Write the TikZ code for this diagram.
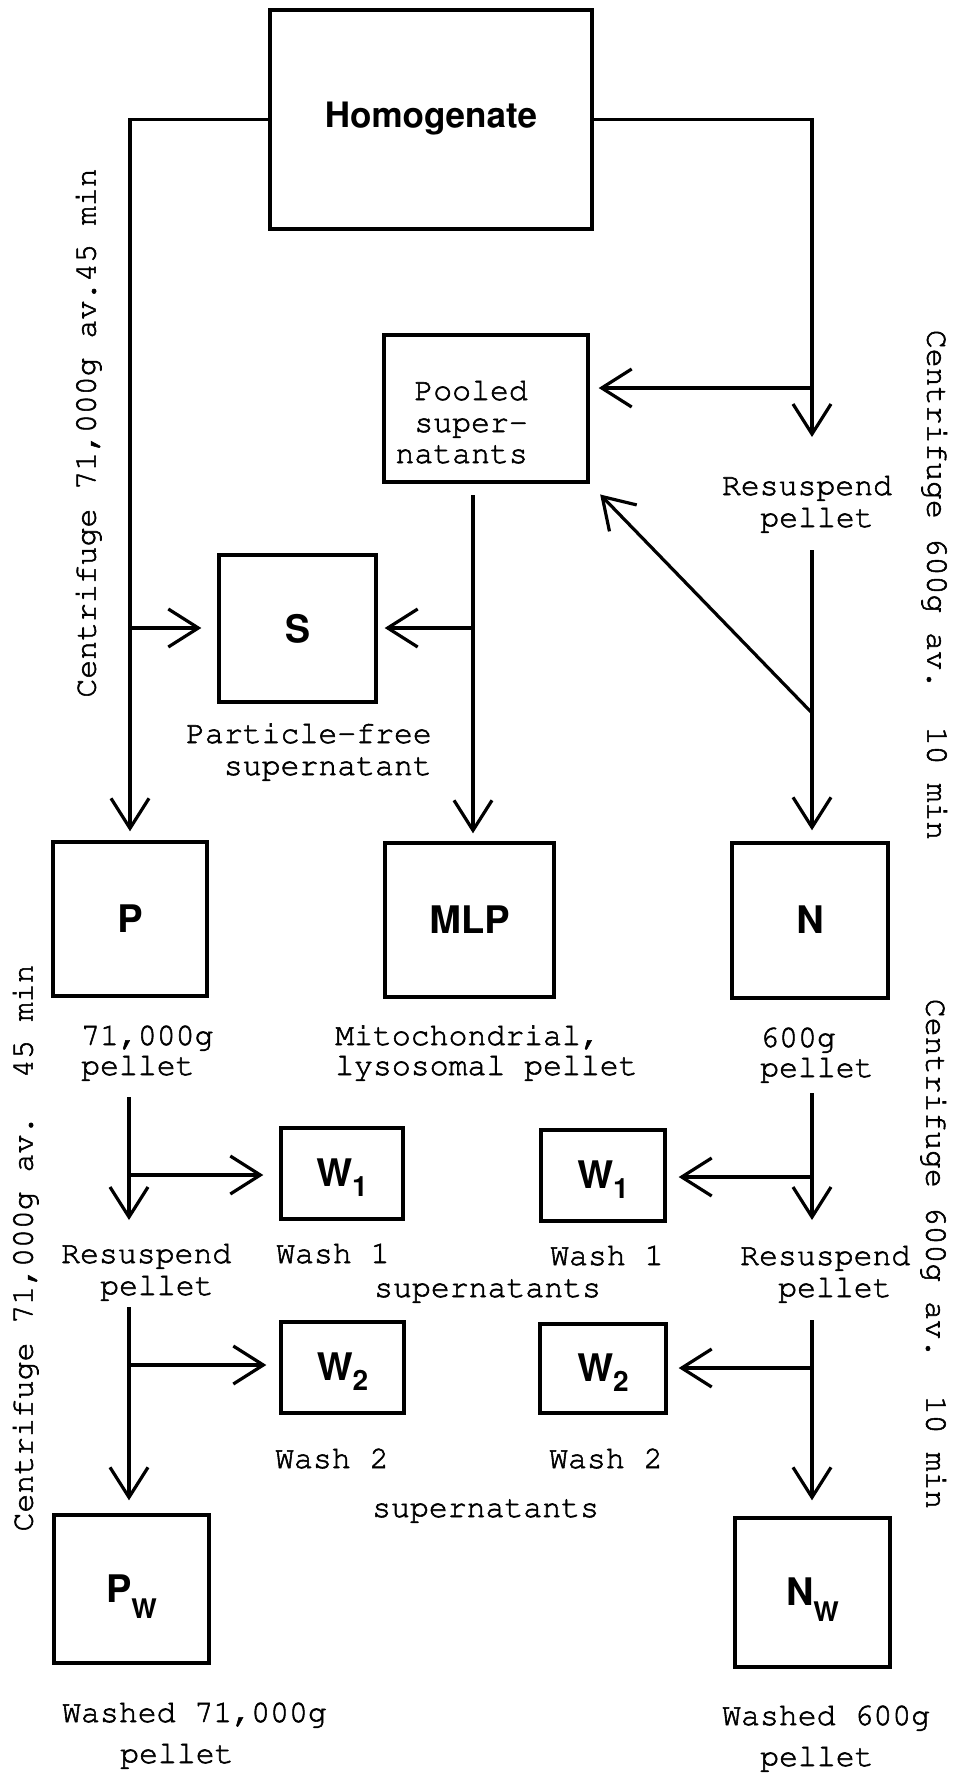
\documentclass[tikz,border=0pt]{standalone}
\usepackage[T1]{fontenc}
\usetikzlibrary{arrows.meta}
\newcommand\courfont{\fontfamily{pcr}\fontseries{m}\fontshape{n}\fontsize{31.5}{32}\selectfont}
\newcommand\helvb[1]{\fontfamily{phv}\fontseries{b}\fontshape{n}\fontsize{#1}{#1}\selectfont}
\newcommand\subdown[3]{\smash{\raisebox{-#1}{\helvb{#2}#3}}}
\newcommand\heavyon{\special{pdf:literal direct 2 Tr 0.55 w}}
\newcommand\heavyoff{\special{pdf:literal direct 0 Tr}}
\begin{document}
\begin{tikzpicture}[x=1pt,y=-1pt,
  box/.style={draw, line width=3.4pt, inner sep=0pt},
  conn/.style={line width=3.2pt},
  arr/.style={conn, -{Straight Barb[length=30pt,width=38pt]}},
  txt/.style={font=\courfont, inner sep=0pt,
    execute at begin node=\heavyon, execute at end node=\heavyoff},
]
\fill[white] (0,0) rectangle (954,1776);
\useasboundingbox (0,0) rectangle (954,1776);

% boxes
\node[box, minimum width=322pt, minimum height=219pt, font=\helvb{35}] (hom) at (431,119.5) {Homogenate};
\node[box, minimum width=204pt, minimum height=147pt] (pool) at (486,408.5) {};
\node[box, minimum width=157pt, minimum height=147pt, font=\helvb{38}] (S) at (297.5,628.5) {S};
\node[box, minimum width=154pt, minimum height=154pt, font=\helvb{38}] (P) at (130,919) {P};
\node[box, minimum width=169pt, minimum height=154pt, font=\helvb{38}] (MLP) at (469.5,920) {MLP};
\node[box, minimum width=156pt, minimum height=155pt, font=\helvb{38}] (N) at (810,920.5) {N};
\node[box, minimum width=122pt, minimum height=91pt, font=\helvb{38}] (W1L) at (342,1173.5) {W\subdown{10pt}{28}{1}};
\node[box, minimum width=123pt, minimum height=91pt, font=\helvb{38}] (W2L) at (342.5,1367.5) {W\subdown{10pt}{28}{2}};
\node[box, minimum width=124pt, minimum height=91pt, font=\helvb{38}] (W1R) at (603,1175.5) {W\subdown{10pt}{28}{1}};
\node[box, minimum width=126pt, minimum height=89pt, font=\helvb{38}] (W2R) at (603,1368.5) {W\subdown{10pt}{28}{2}};
\node[box, minimum width=155pt, minimum height=148pt, font=\helvb{38}] (Pw) at (131.5,1589) {P\subdown{16pt}{27}{W}};
\node[box, minimum width=155pt, minimum height=149pt, font=\helvb{38}] (Nw) at (812.5,1592.5) {N\subdown{16pt}{27}{W}};

% text labels
\node[txt, anchor=base east] (pl1a) at (528,400) {Pooled};
\node[txt, anchor=base east] (pl1b) at (528,432) {super-};
\node[txt, anchor=base east] (pl1c) at (528,463) {natants};
\node[txt, anchor=base] (rs1a) at (807,495) {Resuspend};
\node[txt, anchor=base] (rs1b) at (817,527) {pellet};
\node[txt, anchor=base east] (pf1) at (432,743) {Particle-free};
\node[txt, anchor=base east] (pf2) at (432,775) {supernatant};
\node[txt, anchor=base west] (pp1) at (81,1045) {71,000g};
\node[txt, anchor=base west] (pp2) at (81,1075) {pellet};
\node[txt, anchor=base west] (ml1) at (335,1045) {Mitochondrial,};
\node[txt, anchor=base west] (ml2) at (335,1075) {lysosomal pellet};
\node[txt, anchor=base west] (np1) at (760,1047) {600g};
\node[txt, anchor=base west] (np2) at (760,1077) {pellet};
\node[txt, anchor=base west] (rl1) at (61,1263) {Resuspend};
\node[txt, anchor=base west] (rl2) at (100,1295) {pellet};
\node[txt, anchor=base west] (wl1) at (276,1263) {Wash 1};
\node[txt, anchor=base west] (ws1) at (374,1297) {supernatants};
\node[txt, anchor=base west] (wr1) at (550,1265) {Wash 1};
\node[txt, anchor=base west] (rr1) at (740,1265) {Resuspend};
\node[txt, anchor=base west] (rr2) at (778,1297) {pellet};
\node[txt, anchor=base west] (wl2) at (275,1468) {Wash 2};
\node[txt, anchor=base west] (wr2) at (549,1468) {Wash 2};
\node[txt, anchor=base west] (ws2) at (372,1517) {supernatants};
\node[txt, anchor=base west] (wp1) at (62,1722) {Washed 71,000g};
\node[txt, anchor=base west] (wp2) at (120,1763) {pellet};
\node[txt, anchor=base west] (wn1) at (722,1725) {Washed 600g};
\node[txt, anchor=base west] (wn2) at (760,1766) {pellet};

% rotated centrifuge labels
\node[txt, rotate=90] (cul) at (88,433) {Centrifuge 71,000g av.45 min};
\node[txt, rotate=90] (cll) at (25,1248) {Centrifuge 71,000g av. 45 min};
\node[txt, rotate=-90] (cur) at (935,585) {Centrifuge 600g av. 10 min};
\node[txt, rotate=-90] (clr) at (934,1254) {Centrifuge 600g av. 10 min};

% connectors, upper part
\draw[arr, shorten >=9pt] (hom.west) -| (P.north);
\coordinate (rtip1) at (812,437);
\draw[arr] (hom.east) -| (rtip1);
\coordinate (jr1) at (812,388);
\draw[arr, shorten >=9pt] (jr1) -- (jr1 -| pool.east);
\coordinate (rtop2) at (812,550);
\draw[arr, shorten >=11pt] (rtop2) -- (rtop2 |- N.north);
\coordinate (jd) at (812,713);
\draw[arr, shorten >=15pt] (jd) -- (pool.south east);
\coordinate (ms) at (473,495);
\draw[arr, shorten >=8pt] (ms) -- (ms |- MLP.north);
\coordinate (jm) at (473,628);
\draw[arr, shorten >=7pt] (jm) -- (jm -| S.east);
\coordinate (jl) at (130,628);
\draw[arr, shorten >=16pt] (jl) -- (jl -| S.west);

% connectors, left lower
\coordinate (pla) at (129,1097);
\coordinate (platip) at (129,1220);
\draw[arr] (pla) -- (platip);
\coordinate (jw1) at (129,1175);
\draw[arr, shorten >=16pt] (jw1) -- (jw1 -| W1L.west);
\coordinate (plb) at (129,1307);
\draw[arr, shorten >=13pt] (plb) -- (plb |- Pw.north);
\coordinate (jw2) at (129,1365);
\draw[arr, shorten >=13pt] (jw2) -- (jw2 -| W2L.west);

% connectors, right lower
\coordinate (nra) at (812,1093);
\coordinate (nratip) at (812,1220);
\draw[arr] (nra) -- (nratip);
\coordinate (jw3) at (812,1177);
\draw[arr, shorten >=12pt] (jw3) -- (jw3 -| W1R.east);
\coordinate (nrb) at (812,1320);
\draw[arr, shorten >=16pt] (nrb) -- (nrb |- Nw.north);
\coordinate (jw4) at (812,1368);
\draw[arr, shorten >=11pt] (jw4) -- (jw4 -| W2R.east);
\end{tikzpicture}
\end{document}
